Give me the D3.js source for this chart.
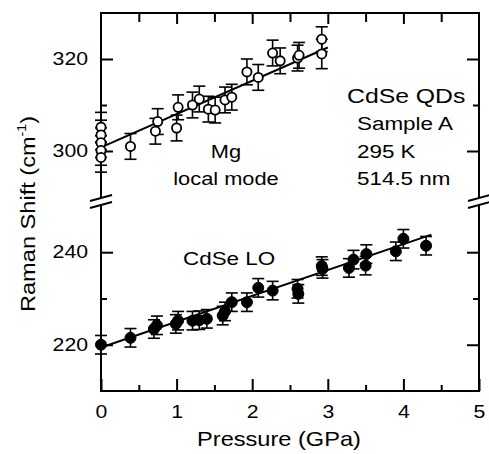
<!DOCTYPE html>
<html>
<head>
<meta charset="utf-8">
<script src="https://cdn.jsdelivr.net/npm/d3@7"></script>
<style>
  body { margin: 0; background: #fff; }
  text { font-family: "Liberation Sans", Arial, Helvetica, sans-serif; fill: #000; }
</style>
</head>
<body>
<svg id="chart" width="489" height="454"></svg>
<script>
// Mg local mode, open circles (upper panel)
const mgPressure = [0, 0, 0, 0, 0, 0.39, 0.72, 0.75, 1.0, 1.02, 1.21, 1.30, 1.42, 1.51, 1.64, 1.73, 1.93, 2.08, 2.27, 2.37, 2.60, 2.62, 2.92, 2.92]
const mgShift = [305.2, 303.5, 301.8, 300.1, 298.6, 301.0, 304.3, 306.4, 305.0, 309.5, 310.0, 311.3, 309.1, 308.9, 311.1, 311.7, 317.2, 316.0, 321.3, 319.6, 320.2, 320.8, 324.3, 321.1]
const mgErr = [3.2, 3.2, 3.2, 3.2, 3.2, 2.8, 2.8, 2.8, 2.8, 2.7, 2.8, 2.8, 2.8, 2.8, 2.8, 2.8, 2.8, 2.8, 2.8, 2.8, 2.8, 2.8, 2.7, 3.2]
const mgFitP = [0, 3.0]
const mgFitShift = [300.8, 322.5]

// CdSe LO, filled circles (lower panel)
const loPressure = [0, 0.39, 0.70, 0.74, 0.99, 1.02, 1.21, 1.30, 1.40, 1.61, 1.64, 1.73, 1.93, 2.08, 2.27, 2.60, 2.61, 2.92, 2.93, 3.28, 3.34, 3.50, 3.51, 3.90, 4.00, 4.30]
const loShift = [220.0, 221.5, 223.4, 224.2, 224.5, 225.2, 225.2, 225.3, 225.6, 226.3, 227.2, 229.2, 229.2, 232.3, 231.7, 232.1, 231.0, 237.0, 236.4, 236.6, 238.4, 237.1, 239.6, 240.2, 242.9, 241.4]
const loErr = [2, 2, 2, 2, 2, 2, 2, 2, 2, 2, 2, 2, 2, 2, 2, 2, 2, 2, 2, 2, 2, 2, 2, 2, 2, 2]
const loFitP = [0, 4.37]
const loFitShift = [219.4, 243.8]

// ticks
const xMajor = [0, 1, 2, 3, 4, 5]
const xMinor = [0.5, 1.5, 2.5, 3.5, 4.5]
const yUpMajor = [300, 320]
const yUpMinor = [310]
const yLoMajor = [220, 240]
const yLoMinor = [230]

const svg = d3.select('#chart')
const pLeft = 101, pRight = 479, pTop = 13, pBottom = 391
const stretch = 1.18   // the original lettering is wider than Arial

const x = d3.scaleLinear().domain([0, 5]).range([pLeft, pRight])
const yUp = d3.scaleLinear().domain([290, 330]).range([197, pTop])
const yLo = d3.scaleLinear().domain([210, 251.5]).range([pBottom, 199])

const widen = sel => sel.selectAll('text').attr('transform', `scale(${stretch},1)`)

//axes: ticks point inward, domain lines drawn by hand below
const axis = (gen, tx, ty, vals, size, labels, pad) => {
    const g = svg.append('g').attr('transform', `translate(${tx},${ty})`)
        .call(gen.tickValues(vals).tickSize(-size).tickPadding(pad || 3)
            .tickFormat(labels ? d3.format('d') : ''))
    g.select('.domain').remove()
    g.selectAll('line').attr('stroke', '#000').attr('stroke-width', 2)
    g.selectAll('text').attr('font-size', 18).attr('font-family', null)
    widen(g)
    return g
}

axis(d3.axisBottom(x), 0, pBottom, xMajor, 12, true, 14)
axis(d3.axisBottom(x), 0, pBottom, xMinor, 6, false)
axis(d3.axisTop(x), 0, pTop, xMajor.slice(1, 5), 11, false)
axis(d3.axisTop(x), 0, pTop, xMinor, 9, false)

axis(d3.axisLeft(yUp), pLeft, 0, yUpMajor, 12, true, 11)
axis(d3.axisLeft(yUp), pLeft, 0, yUpMinor, 6, false)
axis(d3.axisLeft(yLo), pLeft, 0, yLoMajor, 12, true, 11)
axis(d3.axisLeft(yLo), pLeft, 0, yLoMinor, 6, false)
axis(d3.axisRight(yUp), pRight, 0, yUpMajor, 12, false)
axis(d3.axisRight(yUp), pRight, 0, yUpMinor, 6, false)
axis(d3.axisRight(yLo), pRight, 0, yLoMajor, 12, false)
axis(d3.axisRight(yLo), pRight, 0, yLoMinor, 6, false)

// frame with the break gap on both sides
const frame = svg.append('g').attr('stroke', '#000').attr('stroke-width', 2).attr('fill', 'none')
const gapTop = 198, gapBot = 205
frame.append('path').attr('d', `M${pLeft},${gapTop}V${pTop}H${pRight}V${gapTop}`)
frame.append('path').attr('d', `M${pLeft},${gapBot}V${pBottom}H${pRight}V${gapBot}`)
;[pLeft, pRight].forEach(xc => {
    frame.append('line').attr('x1', xc - 11).attr('y1', gapTop + 3).attr('x2', xc + 11).attr('y2', gapTop - 3)
    frame.append('line').attr('x1', xc - 11).attr('y1', gapBot + 3).attr('x2', xc + 11).attr('y2', gapBot - 3)
})

// fit lines
const drawFit = (ps, vs, y) => {
    svg.append('path')
        .attr('d', d3.line()(ps.map((p, i) => [x(p), y(vs[i])])))
        .attr('stroke', '#000').attr('stroke-width', 2).attr('fill', 'none')
}
drawFit(mgFitP, mgFitShift, yUp)
drawFit(loFitP, loFitShift, yLo)

// error bars + markers
const drawSeries = (ps, vs, es, y, filled) => {
    const data = ps.map((p, i) => ({ p, v: vs[i], e: es[i] }))
    const g = svg.append('g')
    const bars = g.selectAll('g.bar').data(data).join('g').attr('stroke', '#000').attr('stroke-width', 1.6)
    bars.append('line').attr('x1', d => x(d.p)).attr('x2', d => x(d.p))
        .attr('y1', d => y(d.v + d.e)).attr('y2', d => y(d.v - d.e))
    bars.append('line').attr('x1', d => x(d.p) - 6).attr('x2', d => x(d.p) + 6)
        .attr('y1', d => y(d.v + d.e)).attr('y2', d => y(d.v + d.e))
    bars.append('line').attr('x1', d => x(d.p) - 6).attr('x2', d => x(d.p) + 6)
        .attr('y1', d => y(d.v - d.e)).attr('y2', d => y(d.v - d.e))
    g.selectAll('circle').data(data).join('circle')
        .attr('cx', d => x(d.p)).attr('cy', d => y(d.v))
        .attr('r', filled ? 5.5 : 4.6)
        .attr('fill', filled ? '#000' : '#fff')
        .attr('stroke', '#000').attr('stroke-width', filled ? 1 : 1.8)
}
drawSeries(mgPressure, mgShift, mgErr, yUp, false)
drawSeries(loPressure, loShift, loErr, yLo, true)

// labels
const addText = (str, tx, ty, size, anchor) =>
    svg.append('text').attr('transform', `translate(${tx},${ty}) scale(${stretch},1)`)
        .attr('font-size', size).attr('text-anchor', anchor || 'start').text(str)

addText('Pressure (GPa)', 279, 446, 20, 'middle')
const yTitle = svg.append('text')
    .attr('transform', `translate(35,214) rotate(-90) scale(${stretch},1)`)
    .attr('font-size', 20).attr('text-anchor', 'middle')
yTitle.append('tspan').text('Raman Shift (cm')
yTitle.append('tspan').attr('font-size', 12).attr('dy', -9).text('-1')
yTitle.append('tspan').attr('dy', 9).text(')')

addText('CdSe QDs', 347, 103, 21)
addText('Sample A', 357, 130, 19)
addText('295 K', 357, 158, 19)
addText('514.5 nm', 357, 185, 19)
addText('Mg', 226, 158, 18.5, 'middle')
addText('local mode', 226, 185, 18.5, 'middle')
addText('CdSe LO', 183, 265, 19)
</script>
</body>
</html>
